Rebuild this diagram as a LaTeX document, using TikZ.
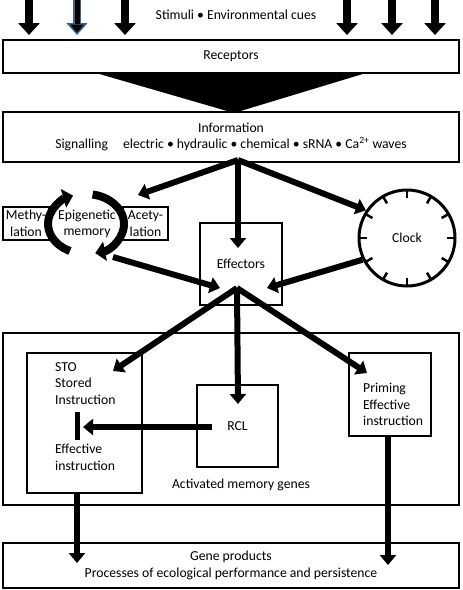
\documentclass[tikz,border=0pt]{standalone}
\usepackage{fontspec}
\setmainfont{Carlito}
\usetikzlibrary{arrows.meta}
\definecolor{stimblue}{RGB}{62,96,150}

\begin{document}
\begin{tikzpicture}[
  x=1pt, y=-1pt,
  every node/.style={font=\fontsize{13.7}{16.5}\selectfont},
  wbox/.style={draw=black, line width=1.6pt, inner sep=0pt, align=center},
  txt/.style={inner sep=0pt, align=left},
  arw/.style={line width=6pt, -{Triangle[length=10pt, width=16pt]}},
  stim/.style={line width=8pt, -{Triangle[length=12pt, width=21pt]}},
  cyc/.style={line width=8pt, -{Triangle[length=10pt, width=19pt]}},
  tick/.style={line width=2.5pt}
  ]

\useasboundingbox (0,0) rectangle (463,590);

% stimuli and receptors
\node (stimuli) at (236,15) {Stimuli • Environmental cues};
\node [wbox, minimum width=456pt, minimum height=33pt] (rec) at (231,56.5) {Receptors};
\node [wbox, minimum width=456pt, minimum height=50pt] (info) at (231,137)
  {Information\\Signalling\hspace{1.1em}electric • hydraulic • chemical • sRNA • Ca\textsuperscript{2+} waves};

\foreach \x [count=\i] in {29,125,347,392,435} {
  \coordinate (s\i) at (\x,0);
  \coordinate (r\i) at (\x,35);
  \draw [stim] (s\i) -- (r\i);
}
\coordinate (sb) at (77,0);
\coordinate (rb) at (77,35);
\draw [stim, draw=stimblue, -{Triangle[length=12pt, width=21pt, fill=black, line width=1.5pt]}] (sb) -- (rb);
\draw [line width=5pt] (sb) -- (77,24);

\fill (96,73) -- (366,73) -- (234,113) -- cycle;

% middle row
\node [wbox, minimum width=46pt, minimum height=33pt] (meth) at (26,223.5) {Methy-\\lation};
\node [wbox, minimum width=45pt, minimum height=33pt] (acet) at (145.5,223.5) {Acety-\\lation};
\node [txt, align=center] (epi) at (87,224) {Epigenetic\\memory};
\draw [cyc] (70,251) arc [start angle=245, end angle=110, x radius=38pt, y radius=30pt];
\draw [cyc] (92.6,194.5) arc [start angle=80, end angle=-76, x radius=38pt, y radius=30pt];

\node [wbox, minimum size=82pt] (eff) at (241,264) {Effectors};

\node [circle, draw, line width=3pt, minimum size=96pt, inner sep=0pt] (clock) at (407,238) {Clock};
\foreach \a in {0,30,...,330}
  \draw [tick] ([shift={(\a:40pt)}]clock.center) -- ([shift={(\a:48pt)}]clock.center);

\coordinate (infos) at (238,160);
\coordinate (epin) at (138,195);
\coordinate (effn) at (238,248);
\coordinate (epiout) at (113,257);
\coordinate (effw) at (220,288);
\coordinate (effe) at (267,288);
\coordinate (effs) at (237,288);

\draw [arw] (infos) -- (epin);
\draw [arw] (infos) -- (effn);
\draw [arw] (infos) -- (clock.146);
\draw [arw] (epiout) -- (effw);
\draw [arw] (clock.206) -- (effe);

% memory genes
\node [wbox, minimum width=456pt, minimum height=172pt] (amg) at (231,419) {};
\node (amgtext) at (241,485) {Activated memory genes};

\node [wbox, minimum width=115pt, minimum height=140pt] (sto) at (84.5,423) {};
\node [txt, anchor=north west] (stotxt) at (55,362) {STO\\Stored\\Instruction};
\node [txt, anchor=north west] (efftxt) at (55,444) {Effective\\instruction};
\coordinate (bart) at (77.5,412);
\coordinate (barb) at (77.5,440);
\draw [line width=5pt] (bart) -- (barb);

\node [wbox, minimum width=81pt, minimum height=82pt] (rcl) at (237.5,426) {RCL};
\coordinate (rclout) at (212,427);
\coordinate (barin) at (83,427);
\draw [arw] (rclout) -- (barin);

\node [wbox, minimum width=82pt, minimum height=83pt] (prim) at (390,394.5) {};
\node [txt, anchor=north west] (primtxt) at (363,383) {Priming\\Effective\\instruction};

\coordinate (stoin) at (113,371);
\coordinate (rcln) at (238,404);
\coordinate (primin) at (367,373);
\draw [arw] (effs) -- (stoin);
\draw [arw] (effs) -- (rcln);
\draw [arw] (effs) -- (primin);

% gene products
\node [wbox, minimum width=456pt, minimum height=45pt] (gene) at (231,565.5)
  {Gene products\\Processes of ecological performance and persistence};
\coordinate (stoout) at (77,493);
\coordinate (genein1) at (77,563);
\coordinate (primout) at (388,436);
\coordinate (genein2) at (388,565);
\draw [arw] (stoout) -- (genein1);
\draw [arw] (primout) -- (genein2);

\end{tikzpicture}
\end{document}
